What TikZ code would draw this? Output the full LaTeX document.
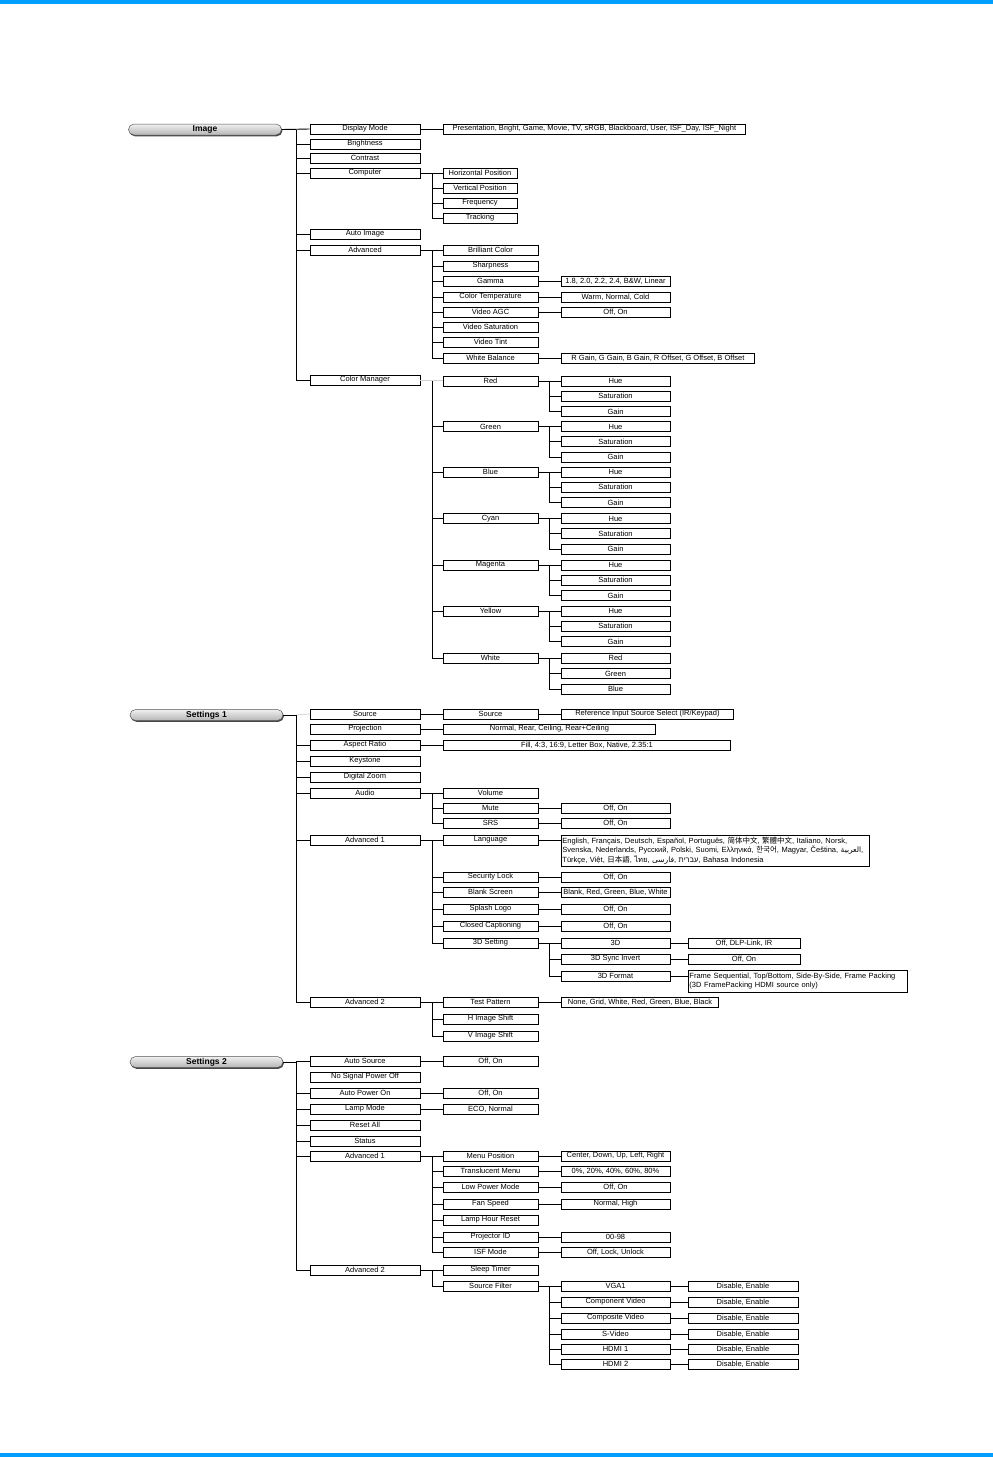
\documentclass[tikz,border=0pt]{standalone}
\usepackage{fontspec}
\setmainfont{Liberation Sans}
\newfontfamily\cjk{Noto Sans CJK SC}
\newfontfamily\thaifont[Script=Thai]{Loma}
\newfontfamily\arabicfont[Script=Arabic]{DejaVu Sans}
\newfontfamily\hebfont[Script=Hebrew]{Liberation Sans}
\TeXXeTstate=1
\usetikzlibrary{shadows}
\definecolor{barblue}{RGB}{0,158,255}
\tikzset{
  bx/.style={draw, line width=0.9pt, minimum height=10pt, inner sep=0pt, font=\fontsize{7.5}{8}\selectfont},
  c1/.style={bx, minimum width=110pt},
  c2/.style={bx, minimum width=95pt},
  c2n/.style={bx, minimum width=74pt},
  c3/.style={bx, minimum width=109pt},
  c4/.style={bx, minimum width=112pt},
  vl/.style={bx, anchor=west},
  ln/.style={line width=0.9pt},
  hdr/.style={rounded corners=5.5pt, minimum width=153pt, minimum height=11pt, inner sep=0pt,
    draw=gray!65!black, line width=0.5pt, top color=gray!12, bottom color=gray!58,
    drop shadow={shadow xshift=0.9pt, shadow yshift=-1.3pt, fill=gray!55!black, opacity=1},
    font=\bfseries\fontsize{8.5}{9}\selectfont}
}
\newcommand\fan[3]{%
  \draw[ln] (#1.east) -- (#1.east -| #2);
  \foreach \c in {#3}{\draw[ln] (#1.east -| #2) |- (\c.west);}%
}
\begin{document}
\begin{tikzpicture}[x=1pt,y=-1pt]
\useasboundingbox (0,0) rectangle (993,1457);
\fill[barblue] (0,0) rectangle (993,4);
\fill[barblue] (0,1453) rectangle (993,1457);
\coordinate (xa) at (296,0);
\coordinate (xb) at (432,0);
\coordinate (xc) at (549,0);

% ================= IMAGE =================
\node[hdr] (img) at (205,129.5) {Image};
\node[c1] (dm) at (365,129) {Display Mode};
\node[c1] (br) at (365,144) {Brightness};
\node[c1] (ct) at (365,158) {Contrast};
\node[c1] (cp) at (365,173) {Computer};
\node[c1] (ai) at (365,234) {Auto Image};
\node[c1] (adv) at (365,250) {Advanced};
\node[c1] (cm) at (365,380) {Color Manager};
\node[vl, minimum width=302pt] (dmv) at (443,129) {Presentation, Bright, Game, Movie, TV, sRGB, Blackboard, User, ISF\_Day, ISF\_Night};

\node[c2n] (hp) at (480,173) {Horizontal Position};
\node[c2n] (vp) at (480,188) {Vertical Position};
\node[c2n] (fq) at (480,203) {Frequency};
\node[c2n] (tr) at (480,218) {Tracking};

\node[c2] (bc) at (490.5,250) {Brilliant Color};
\node[c2] (sh) at (490.5,266) {Sharpness};
\node[c2] (ga) at (490.5,281) {Gamma};
\node[c2] (ctp) at (490.5,297) {Color Temperature};
\node[c2] (agc) at (490.5,312) {Video AGC};
\node[c2] (vs) at (490.5,327) {Video Saturation};
\node[c2] (vt) at (490.5,342) {Video Tint};
\node[c2] (wb) at (490.5,358) {White Balance};
\node[c3] (gav) at (615.5,281) {1.8, 2.0, 2.2, 2.4, B\&W, Linear};
\node[c3] (ctv) at (615.5,297) {Warm, Normal, Cold};
\node[c3] (agcv) at (615.5,312) {Off, On};
\node[vl, minimum width=193pt] (wbv) at (561,358) {R Gain, G Gain, B Gain, R Offset, G Offset, B Offset};

\foreach \nm/\lab/\y in {red/Red/381, grn/Green/426.5, blu/Blue/472, cyn/Cyan/518.5, mag/Magenta/565, yel/Yellow/611}{
  \node[c2] (\nm) at (490.5,\y) {\lab};
  \node[c3] (\nm-h) at (615.5,\y) {Hue};
  \node[c3] (\nm-s) at (615.5,\y+15.3) {Saturation};
  \node[c3] (\nm-g) at (615.5,\y+30.6) {Gain};
  \fan{\nm}{xc}{\nm-h,\nm-s,\nm-g}
}
\node[c2] (wht) at (490.5,658) {White};
\node[c3] (wht-r) at (615.5,658) {Red};
\node[c3] (wht-g) at (615.5,673.5) {Green};
\node[c3] (wht-b) at (615.5,689) {Blue};
\fan{wht}{xc}{wht-r,wht-g,wht-b}

\draw[ln] (img.east) -- (dm.west);
\fan{img}{xa}{br,ct,cp,ai,adv,cm}
\fan{cp}{xb}{hp,vp,fq,tr}
\fan{adv}{xb}{bc,sh,ga,ctp,agc,vs,vt,wb}
\draw[ln] (dm.east) -- (dmv.west);
\draw[ln] (ga.east) -- (gav.west);
\draw[ln] (ctp.east) -- (ctv.west);
\draw[ln] (agc.east) -- (agcv.west);
\draw[ln] (wb.east) -- (wbv.west);
\draw[ln, gray!35] (cm.east) -- (cm.east -| red.west);
\draw[ln] (red.west -| xb) -- (wht.west -| xb);
\foreach \c in {grn,blu,cyn,mag,yel,wht}{\draw[ln] (\c.west -| xb) -- (\c.west);}

% ================= SETTINGS 1 =================
\node[hdr] (s1) at (206.5,715) {Settings 1};
\node[c1] (src) at (365,714) {Source};
\node[c1] (proj) at (365,729) {Projection};
\node[c1] (ar) at (365,745) {Aspect Ratio};
\node[c1] (ks) at (365,761) {Keystone};
\node[c1] (dz) at (365,777) {Digital Zoom};
\node[c1] (aud) at (365,793) {Audio};
\node[c1] (a1) at (365,840) {Advanced 1};
\node[c1] (a2) at (365,1002) {Advanced 2};

\node[c2] (src2) at (490.5,714) {Source};
\node[vl, minimum width=172pt] (srcv) at (561,714) {Reference Input Source Select (IR/Keypad)};
\node[vl, minimum width=212pt] (projv) at (443,729) {Normal, Rear, Ceiling, Rear+Ceiling};
\node[vl, minimum width=287pt] (arv) at (443,745) {Fill, 4:3, 16:9, Letter Box, Native, 2.35:1};

\node[c2] (vol) at (490.5,793) {Volume};
\node[c2] (mute) at (490.5,808) {Mute};
\node[c2] (srs) at (490.5,823) {SRS};
\node[c3] (mutev) at (615.5,808) {Off, On};
\node[c3] (srsv) at (615.5,823) {Off, On};

\node[c2] (lang) at (490.5,840) {Language};
\node[c2] (sec) at (490.5,877) {Security Lock};
\node[c2] (blank) at (490.5,892) {Blank Screen};
\node[c2] (spl) at (490.5,909) {Splash Logo};
\node[c2] (cc) at (490.5,926) {Closed Captioning};
\node[c2] (s3d) at (490.5,943) {3D Setting};
\node[vl, minimum width=308pt, minimum height=31pt, text width=306pt, inner xsep=1pt, align=left,
  font=\fontsize{7.5}{9.6}\selectfont] (langv) at (561,850.5)
  {English, Français, Deutsch, Español, Português, {\cjk 简体中文}, {\cjk 繁體中文}, Italiano, Norsk,\\
   Svenska, Nederlands, Русский, Polski, Suomi, Ελληνικά, {\cjk 한국어}, Magyar, Čeština, {\arabicfont\beginR العربية\endR},\\
   Türkçe, Việt, {\cjk 日本語}, {\thaifont ไทย}, {\arabicfont\beginR فارسی\endR}, {\hebfont\beginR עברית\endR}, Bahasa Indonesia};
\node[c3] (secv) at (615.5,877) {Off, On};
\node[c3] (blankv) at (615.5,892) {Blank, Red, Green, Blue, White};
\node[c3] (splv) at (615.5,909) {Off, On};
\node[c3] (ccv) at (615.5,926) {Off, On};
\node[c3] (d3) at (615.5,943) {3D};
\node[c3] (sync) at (615.5,959) {3D Sync Invert};
\node[c3] (fmt) at (615.5,976) {3D Format};
\node[c4] (d3v) at (744,943) {Off, DLP-Link, IR};
\node[c4] (syncv) at (744,959) {Off, On};
\node[vl, minimum width=219pt, minimum height=22pt, text width=217pt, inner xsep=1pt, align=left,
  font=\fontsize{7.5}{9.6}\selectfont] (fmtv) at (688,981)
  {Frame Sequential, Top/Bottom, Side-By-Side, Frame Packing\\(3D FramePacking HDMI source only)};

\node[c2] (tp) at (490.5,1002) {Test Pattern};
\node[c2] (hs) at (490.5,1019) {H Image Shift};
\node[c2] (vsh) at (490.5,1036) {V Image Shift};
\node[vl, minimum width=157pt] (tpv) at (561,1002) {None, Grid, White, Red, Green, Blue, Black};

\draw[ln] (s1.east) -- (s1.east -| xa);
\draw[ln, gray!30] (s1.east -| xa) -- (src.west);
\fan{s1}{xa}{ar,ks,dz,aud,a1,a2}
\draw[ln] (src.east) -- (src2.west);
\draw[ln] (src2.east) -- (srcv.west);
\draw[ln] (proj.east) -- (projv.west);
\draw[ln] (ar.east) -- (arv.west);
\fan{aud}{xb}{vol,mute,srs}
\draw[ln] (mute.east) -- (mutev.west);
\draw[ln] (srs.east) -- (srsv.west);
\fan{a1}{xb}{lang,sec,blank,spl,cc,s3d}
\draw[ln] (lang.east) -- (lang.east -| langv.west);
\draw[ln] (sec.east) -- (secv.west);
\draw[ln] (blank.east) -- (blankv.west);
\draw[ln] (spl.east) -- (splv.west);
\draw[ln] (cc.east) -- (ccv.west);
\fan{s3d}{xc}{d3,sync,fmt}
\draw[ln] (d3.east) -- (d3v.west);
\draw[ln] (sync.east) -- (syncv.west);
\draw[ln] (fmt.east) -- (fmt.east -| fmtv.west);
\fan{a2}{xb}{tp,hs,vsh}
\draw[ln] (tp.east) -- (tpv.west);

% ================= SETTINGS 2 =================
\node[hdr] (s2) at (206.5,1062) {Settings 2};
\node[c1] (as) at (365,1061) {Auto Source};
\node[c1] (nsp) at (365,1077) {No Signal Power Off};
\node[c1] (apo) at (365,1093) {Auto Power On};
\node[c1] (lm) at (365,1109) {Lamp Mode};
\node[c1] (ra) at (365,1125) {Reset All};
\node[c1] (st) at (365,1141) {Status};
\node[c1] (b1) at (365,1156) {Advanced 1};
\node[c1] (b2) at (365,1270) {Advanced 2};
\node[c2] (asv) at (490.5,1061) {Off, On};
\node[c2] (apov) at (490.5,1093) {Off, On};
\node[c2] (lmv) at (490.5,1109) {ECO, Normal};

\node[c2] (mp) at (490.5,1156) {Menu Position};
\node[c2] (tm) at (490.5,1171) {Translucent Menu};
\node[c2] (lpm) at (490.5,1187) {Low Power Mode};
\node[c2] (fs) at (490.5,1204) {Fan Speed};
\node[c2] (lhr) at (490.5,1220) {Lamp Hour Reset};
\node[c2] (pid) at (490.5,1237) {Projector ID};
\node[c2] (isf) at (490.5,1252) {ISF Mode};
\node[c3] (mpv) at (615.5,1156) {Center, Down, Up, Left, Right};
\node[c3] (tmv) at (615.5,1171) {0\%, 20\%, 40\%, 60\%, 80\%};
\node[c3] (lpmv) at (615.5,1187) {Off, On};
\node[c3] (fsv) at (615.5,1204) {Normal, High};
\node[c3] (pidv) at (615.5,1237) {00-98};
\node[c3] (isfv) at (615.5,1252) {Off, Lock, Unlock};

\node[c2] (slt) at (490.5,1270) {Sleep Timer};
\node[c2] (sf) at (490.5,1286) {Source Filter};
\foreach \nm/\lab/\y in {vga/VGA1/1286, cmp/Component Video/1302, cps/Composite Video/1318, svd/S-Video/1334, hd1/HDMI 1/1349, hd2/HDMI 2/1364}{
  \node[c3] (\nm) at (615.5,\y) {\lab};
  \node[c4, minimum width=110pt] (\nm-v) at (743,\y) {Disable, Enable};
  \draw[ln] (\nm.east) -- (\nm-v.west);
}

\fan{s2}{xa}{as,apo,lm,ra,st,b1,b2}
\draw[ln] (as.east) -- (asv.west);
\draw[ln] (apo.east) -- (apov.west);
\draw[ln] (lm.east) -- (lmv.west);
\fan{b1}{xb}{mp,tm,lpm,fs,lhr,pid,isf}
\draw[ln] (mp.east) -- (mpv.west);
\draw[ln] (tm.east) -- (tmv.west);
\draw[ln] (lpm.east) -- (lpmv.west);
\draw[ln] (fs.east) -- (fsv.west);
\draw[ln] (pid.east) -- (pidv.west);
\draw[ln] (isf.east) -- (isfv.west);
\fan{b2}{xb}{slt,sf}
\fan{sf}{xc}{vga,cmp,cps,svd,hd1,hd2}
\end{tikzpicture}
\end{document}
